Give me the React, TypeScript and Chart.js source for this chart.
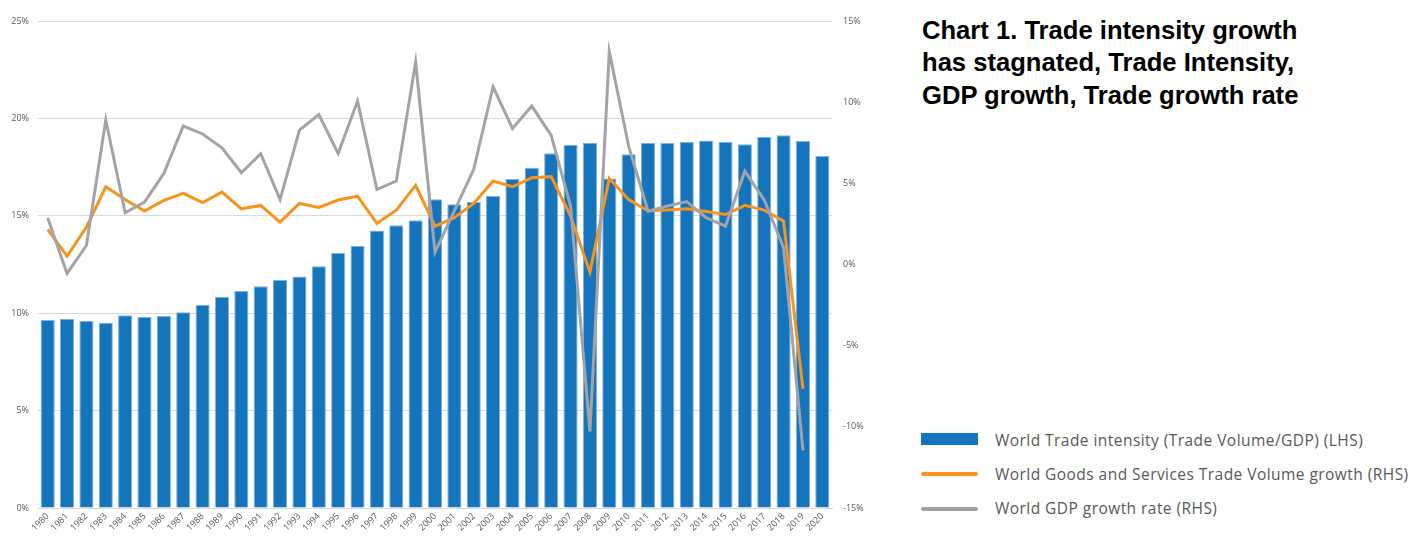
import React, { useEffect, useRef } from "react";
import { Chart, registerables } from "chart.js";

Chart.register(...registerables);

const years = [
  "1980", "1981", "1982", "1983", "1984", "1985", "1986", "1987", "1988", "1989",
  "1990", "1991", "1992", "1993", "1994", "1995", "1996", "1997", "1998", "1999",
  "2000", "2001", "2002", "2003", "2004", "2005", "2006", "2007", "2008", "2009",
  "2010", "2011", "2012", "2013", "2014", "2015", "2016", "2017", "2018", "2019",
  "2020",
];

// World Trade intensity (Trade Volume/GDP), % (LHS)
const tradeIntensity = [
  9.65, 9.72, 9.6, 9.51, 9.89, 9.8, 9.86, 10.05, 10.42, 10.85,
  11.14, 11.38, 11.72, 11.89, 12.41, 13.09, 13.45, 14.24, 14.51, 14.77,
  15.85, 15.59, 15.71, 16.02, 16.89, 17.47, 18.21, 18.63, 18.75, 16.91,
  18.16, 18.74, 18.74, 18.79, 18.86, 18.79, 18.67, 19.05, 19.13, 18.84,
  18.07,
];

// World Goods and Services Trade Volume growth, % (RHS)
const tradeGrowth = [
  2.16, 0.51, 2.3, 4.79, 4.0, 3.29, 3.95, 4.38, 3.82, 4.46,
  3.43, 3.64, 2.61, 3.76, 3.51, 3.97, 4.21, 2.53, 3.35, 4.87,
  2.36, 2.88, 3.76, 5.14, 4.79, 5.34, 5.41, 2.98, -0.47, 5.3,
  4.0, 3.31, 3.35, 3.43, 3.27, 3.08, 3.64, 3.35, 2.67, -7.66,
  null,
];

// World GDP growth rate, % (RHS)
const gdpGrowth = [
  2.88, -0.55, 1.17, 8.9, 3.19, 3.84, 5.61, 8.53, 8.04, 7.19,
  5.65, 6.82, 4.0, 8.28, 9.23, 6.84, 10.07, 4.62, 5.14, 12.47,
  0.76, 3.3, 5.86, 10.95, 8.38, 9.76, 7.95, 3.6, -10.28, 13.11,
  7.29, 3.29, 3.6, 3.88, 2.88, 2.36, 5.75, 3.97, 1.03, -11.45,
  null,
];

const titleLines = [
  "Chart 1. Trade intensity growth",
  "has stagnated, Trade Intensity,",
  "GDP growth, Trade growth rate",
];

const legendLabels = [
  "World Trade intensity (Trade Volume/GDP) (LHS)",
  "World Goods and Services Trade Volume growth (RHS)",
  "World GDP growth rate (RHS)",
];

const BLUE = "#1475BC";
const ORANGE = "#F7931E";
const GRAY = "#A3A3A8";
const TICK = "#595959";
const FONT = "'Open Sans', sans-serif";

export default function App() {
  const ref = useRef<HTMLCanvasElement | null>(null);

  useEffect(() => {
    if (!ref.current) return;
    const chart = new Chart(ref.current, {
      data: {
        labels: years,
        datasets: [
          {
            type: "line",
            label: legendLabels[2],
            data: gdpGrowth,
            yAxisID: "y1",
            borderColor: GRAY,
            borderWidth: 3,
            pointRadius: 0,
            tension: 0,
            order: 0,
          },
          {
            type: "line",
            label: legendLabels[1],
            data: tradeGrowth,
            yAxisID: "y1",
            borderColor: ORANGE,
            borderWidth: 3,
            pointRadius: 0,
            tension: 0,
            order: 1,
          },
          {
            type: "bar",
            label: legendLabels[0],
            data: tradeIntensity,
            yAxisID: "y",
            backgroundColor: BLUE,
            borderColor: "#7FB2DE",
            borderWidth: 1,
            barPercentage: 0.73,
            categoryPercentage: 1,
            order: 2,
          },
        ],
      },
      options: {
        responsive: false,
        animation: false,
        layout: { padding: { top: 21, left: 0, right: 0, bottom: 0 } },
        plugins: {
          legend: { display: false },
          tooltip: { enabled: false },
          title: { display: false },
        },
        scales: {
          x: {
            grid: { display: false, drawTicks: false },
            border: { display: true, color: "#D9D9D9" },
            ticks: {
              autoSkip: false,
              minRotation: 45,
              maxRotation: 45,
              padding: 3,
              color: TICK,
              font: { family: FONT, size: 9 },
            },
            afterFit: (s: any) => {
              s.height = 30;
            },
          },
          y: {
            position: "left",
            min: 0,
            max: 25,
            grid: { color: "#D9D9D9", drawTicks: false, lineWidth: 1 },
            border: { display: false },
            ticks: {
              stepSize: 5,
              padding: 9,
              color: TICK,
              font: { family: FONT, size: 9 },
              callback: (v: any) => v + "%",
            },
            afterFit: (s: any) => {
              s.width = 38;
            },
          },
          y1: {
            position: "right",
            min: -15,
            max: 15,
            grid: { display: false, drawTicks: false },
            border: { display: false },
            ticks: {
              stepSize: 5,
              padding: 11,
              color: TICK,
              font: { family: FONT, size: 9 },
              callback: (v: any) => v + "%",
            },
            afterFit: (s: any) => {
              s.width = 48;
            },
          },
        },
      },
    } as any);
    return () => chart.destroy();
  }, []);

  return (
    <div style={{ position: "absolute", left: 0, top: 0, width: 1413, height: 538, background: "#fff" }}>
      <canvas ref={ref} width={880} height={538} style={{ position: "absolute", left: 0, top: 0 }} />
      <div
        style={{
          position: "absolute",
          left: 922,
          top: 13.5,
          fontFamily: "'Liberation Sans', Arial, sans-serif",
          fontWeight: "bold",
          fontSize: 25.6,
          lineHeight: "32.5px",
          color: "#000",
          whiteSpace: "nowrap",
        }}
      >
        {titleLines.map((t, i) => (
          <div key={i}>{t}</div>
        ))}
      </div>
      <div style={{ position: "absolute", left: 921, top: 433, width: 57, height: 12, background: BLUE }} />
      <div style={{ position: "absolute", left: 921, top: 472, width: 57, height: 4, borderRadius: 2, background: ORANGE }} />
      <div style={{ position: "absolute", left: 921, top: 507, width: 57, height: 4, borderRadius: 2, background: GRAY }} />
      {legendLabels.map((t, i) => (
        <div
          key={i}
          style={{
            position: "absolute",
            left: 995,
            top: [429.5, 463.5, 498][i],
            fontFamily: FONT,
            fontSize: 15.5,
            letterSpacing: "0.45px",
            lineHeight: "20px",
            color: TICK,
            whiteSpace: "nowrap",
          }}
        >
          {t}
        </div>
      ))}
    </div>
  );
}
